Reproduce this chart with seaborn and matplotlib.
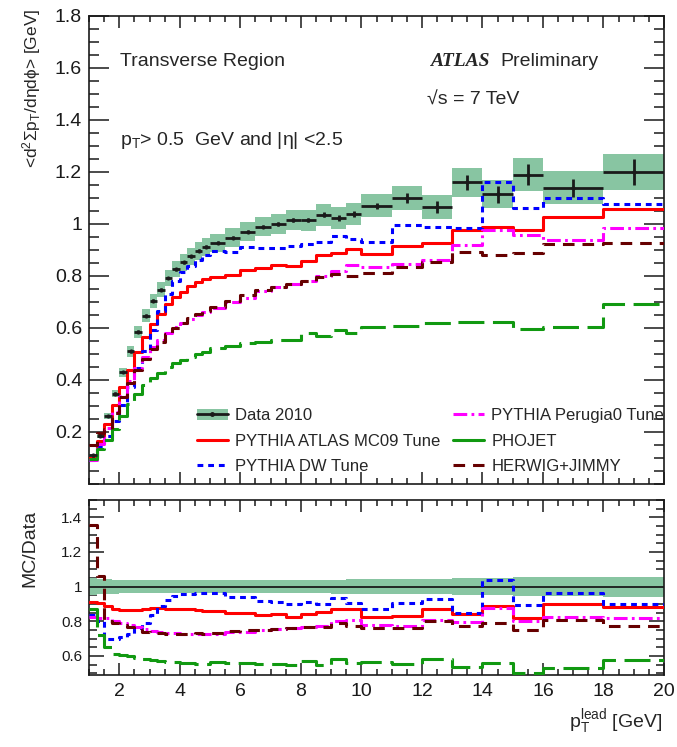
import numpy as np
import pandas as pd
import matplotlib
matplotlib.use("Agg")
import matplotlib.pyplot as plt
import seaborn as sns
from matplotlib.ticker import MultipleLocator, FixedLocator, FuncFormatter
from matplotlib.lines import Line2D
from matplotlib.patches import Patch

# ---------------- data ----------------
bin_edges = [1.0, 1.25, 1.5, 1.75, 2.0, 2.25, 2.5, 2.75, 3.0, 3.25, 3.5, 3.75, 4.0,
             4.25, 4.5, 4.75, 5.0, 5.5, 6.0, 6.5, 7.0, 7.5, 8.0, 8.5, 9.0, 9.5,
             10.0, 11.0, 12.0, 13.0, 14.0, 15.0, 16.0, 18.0, 20.0]

data_2010 = [0.110, 0.185, 0.262, 0.347, 0.430, 0.510, 0.586, 0.648, 0.705, 0.748,
             0.792, 0.826, 0.852, 0.876, 0.897, 0.913, 0.928, 0.948, 0.970, 0.990,
             1.000, 1.015, 1.015, 1.035, 1.022, 1.038, 1.070, 1.100, 1.065, 1.160,
             1.115, 1.190, 1.140, 1.200]
data_stat = [0.005, 0.005, 0.005, 0.005, 0.005, 0.005, 0.005, 0.005, 0.005, 0.005,
             0.005, 0.005, 0.005, 0.005, 0.005, 0.005, 0.006, 0.006, 0.006, 0.007,
             0.008, 0.009, 0.009, 0.010, 0.011, 0.012, 0.012, 0.018, 0.022, 0.030,
             0.033, 0.040, 0.035, 0.050]
data_syst = [0.0055, 0.008, 0.011, 0.014, 0.017, 0.020, 0.023, 0.025, 0.027, 0.029,
             0.030, 0.031, 0.032, 0.033, 0.034, 0.035, 0.035, 0.036, 0.037, 0.038,
             0.038, 0.039, 0.040, 0.041, 0.042, 0.043, 0.045, 0.047, 0.047, 0.055,
             0.055, 0.063, 0.062, 0.070]

pythia_mc09 = [0.100, 0.167, 0.232, 0.302, 0.373, 0.440, 0.507, 0.564, 0.617, 0.655,
               0.692, 0.720, 0.740, 0.762, 0.776, 0.787, 0.795, 0.805, 0.822, 0.830,
               0.843, 0.840, 0.856, 0.881, 0.888, 0.902, 0.884, 0.915, 0.927, 0.978,
               0.988, 0.978, 1.026, 1.056]
pythia_dw = [0.092, 0.148, 0.183, 0.243, 0.305, 0.372, 0.445, 0.512, 0.591, 0.665,
             0.730, 0.780, 0.814, 0.840, 0.862, 0.880, 0.896, 0.891, 0.911, 0.908,
             0.909, 0.914, 0.923, 0.932, 0.955, 0.941, 0.930, 0.996, 0.988, 0.983,
             1.160, 1.063, 1.100, 1.077]
pythia_perugia0 = [0.091, 0.152, 0.215, 0.278, 0.340, 0.398, 0.448, 0.489, 0.525, 0.554,
                   0.581, 0.603, 0.619, 0.636, 0.651, 0.663, 0.676, 0.700, 0.716, 0.742,
                   0.756, 0.770, 0.780, 0.800, 0.818, 0.841, 0.835, 0.848, 0.862, 0.920,
                   0.977, 0.956, 0.937, 0.984]
phojet = [0.096, 0.133, 0.170, 0.213, 0.260, 0.306, 0.346, 0.379, 0.407, 0.428,
          0.449, 0.465, 0.477, 0.489, 0.499, 0.507, 0.524, 0.531, 0.543, 0.546,
          0.555, 0.554, 0.579, 0.569, 0.593, 0.581, 0.605, 0.607, 0.618, 0.622,
          0.624, 0.595, 0.605, 0.692]
herwig_jimmy = [0.149, 0.196, 0.210, 0.274, 0.335, 0.390, 0.440, 0.480, 0.518, 0.546,
                0.576, 0.600, 0.619, 0.638, 0.655, 0.666, 0.679, 0.705, 0.726, 0.745,
                0.756, 0.770, 0.780, 0.796, 0.807, 0.801, 0.813, 0.836, 0.855, 0.894,
                0.881, 0.889, 0.922, 0.925]

legend_labels = ["Data 2010", "PYTHIA ATLAS MC09 Tune", "PYTHIA DW Tune",
                 "PYTHIA Perugia0 Tune", "PHOJET", "HERWIG+JIMMY"]

# ---------------- style ----------------
sns.set_theme(style="ticks")
plt.rcParams["font.family"] = ["Liberation Sans", "DejaVu Sans"]
plt.rcParams["mathtext.fontset"] = "custom"
plt.rcParams["mathtext.rm"] = "Liberation Sans"
plt.rcParams["mathtext.it"] = "Liberation Sans:italic"
plt.rcParams["mathtext.bf"] = "Liberation Sans:bold"
plt.rcParams["mathtext.sf"] = "Liberation Sans"
plt.rcParams["axes.linewidth"] = 1.2

BAND = "#88c5a2"
LW = 2.2
mc_series = [
    (pythia_mc09, "#ff0000", "-"),
    (pythia_dw, "#0000ff", (0, (1.9, 1.6))),
    (pythia_perugia0, "#ff00ff", (0, (4.5, 1.4, 0.9, 1.4))),
    (phojet, "#119911", (0, (8.5, 2.8))),
    (herwig_jimmy, "#660000", (0, (3.8, 2.6))),
]

edges = np.array(bin_edges)
lo, hi = edges[:-1], edges[1:]
centers = (lo + hi) / 2
widths = hi - lo
d = np.array(data_2010)
syst = np.array(data_syst)
stat = np.array(data_stat)

fig = plt.figure(figsize=(6.77, 7.47), dpi=100)
ax1 = fig.add_axes([89 / 677, 1 - 484 / 747, 575 / 677, 468 / 747])
ax2 = fig.add_axes([89 / 677, 1 - 675 / 747, 575 / 677, 175 / 747])


def step_hist(ax, vals, col, ls):
    v = np.asarray(vals, dtype=float)
    df = pd.DataFrame({"pt": edges, "val": np.append(v, v[-1])})
    sns.lineplot(data=df, x="pt", y="val", estimator=None, sort=False,
                 drawstyle="steps-post", color=col, linestyle=ls, linewidth=LW,
                 ax=ax, zorder=3)


# ---------------- top panel ----------------
ax1.bar(lo, 2 * syst, bottom=d - syst, width=widths, align="edge",
        color=BAND, edgecolor="none", zorder=1)
for vals, col, ls in mc_series:
    step_hist(ax1, vals, col, ls)
ax1.errorbar(centers, d, xerr=widths / 2, yerr=stat, fmt="o", ms=2.0, color="k",
             elinewidth=2.0, capsize=0, zorder=5)

# ---------------- ratio panel ----------------
ax2.bar(lo, 2 * syst / d, bottom=1 - syst / d, width=widths, align="edge",
        color=BAND, edgecolor="none", zorder=1)
ax2.axhline(1.0, color="k", lw=1.3, zorder=2)
for vals, col, ls in mc_series:
    step_hist(ax2, np.array(vals) / d, col, ls)

fmt = FuncFormatter(lambda v, p: f"{v:g}")
for ax in (ax1, ax2):
    ax.set_xlim(1, 20)
    ax.xaxis.set_major_locator(MultipleLocator(2))
    ax.xaxis.set_minor_locator(MultipleLocator(0.5))
    ax.tick_params(which="both", direction="in", top=True, right=True, width=1.1,
                   colors="k")
    ax.set_xlabel("")
    ax.set_ylabel("")
    ax.yaxis.set_major_formatter(fmt)
    ax.xaxis.set_major_formatter(fmt)
    ax.tick_params(axis="x", which="major", length=8.6)
    ax.tick_params(axis="x", which="minor", length=4.3)
    for s in ax.spines.values():
        s.set_visible(True)
        s.set_color("k")

ax1.set_ylim(0.0, 1.8)
ax1.yaxis.set_major_locator(FixedLocator([0.2, 0.4, 0.6, 0.8, 1.0, 1.2, 1.4, 1.6, 1.8]))
ax1.yaxis.set_minor_locator(MultipleLocator(0.05))
ax1.tick_params(axis="y", which="major", length=14.4, labelsize=14, pad=5)
ax1.tick_params(axis="y", which="minor", length=7.2)
ax1.tick_params(axis="x", labelbottom=False)

ax2.set_ylim(0.49, 1.5)
ax2.yaxis.set_major_locator(FixedLocator([0.6, 0.8, 1.0, 1.2, 1.4]))
ax2.yaxis.set_minor_locator(MultipleLocator(0.05))
ax2.tick_params(axis="y", which="major", length=11, labelsize=11, pad=5)
ax2.tick_params(axis="y", which="minor", length=5.5)
ax2.tick_params(axis="x", labelsize=14, pad=6)

# ---------------- texts ----------------
ax1.text(0.054, 0.902, "Transverse Region", transform=ax1.transAxes, fontsize=14,
         va="center", ha="left")
ax1.text(0.593, 0.902, "ATLAS", transform=ax1.transAxes, fontsize=14, va="center",
         ha="left", family=["Liberation Serif", "DejaVu Serif"], weight="bold",
         style="italic")
ax1.text(0.715, 0.902, "Preliminary", transform=ax1.transAxes, fontsize=14,
         va="center", ha="left")
ax1.text(0.588, 0.82, "\u221as = 7 TeV", transform=ax1.transAxes,
         fontsize=14, va="center", ha="left")
ax1.text(0.054, 0.735, "p$_{\\mathrm{T}}$> 0.5  GeV and |\u03b7| <2.5",
         transform=ax1.transAxes, fontsize=14, va="center", ha="left")

fig.text(32 / 677, 1 - 9 / 747,
         "<d$^{2}$\u03a3p$_{\\mathrm{T}}$/d\u03b7d\u03d5> [GeV]",
         rotation=90, ha="center", va="top", fontsize=12.5)
fig.text(30 / 677, 1 - 510 / 747, "MC/Data", rotation=90, ha="center", va="top",
         fontsize=14)
fig.text(662 / 677, 1 - 722 / 747, "p$_{\\mathrm{T}}^{\\mathrm{lead}}$ [GeV]",
         ha="right", va="center", fontsize=14)

# ---------------- legend ----------------
data_handle = (Patch(facecolor=BAND, edgecolor="none"),
               Line2D([], [], color="k", lw=2.0, marker="o", ms=2.5))
handles = [data_handle]
for vals, col, ls in mc_series:
    lsty = "-" if col == "#119911" else ls
    handles.append(Line2D([], [], color=col, lw=LW, linestyle=lsty))
leg = ax1.legend(handles, legend_labels, ncol=2, loc="lower left",
                 bbox_to_anchor=(0.17, 0.0), frameon=False, fontsize=12,
                 handlelength=1.85, labelspacing=0.62, columnspacing=0.75,
                 handletextpad=0.45, borderaxespad=0.2)

fig.savefig("out.png", dpi=100)
